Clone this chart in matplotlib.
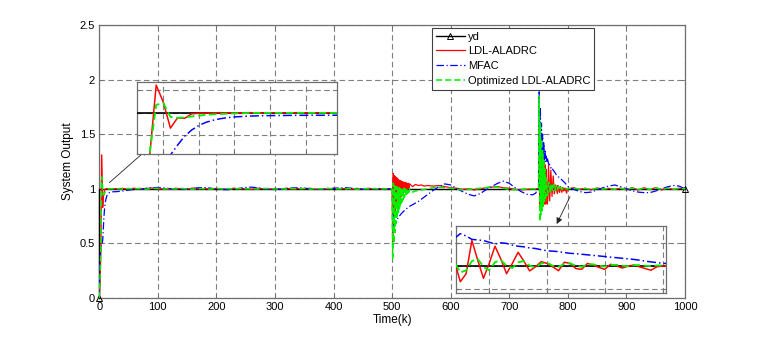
import numpy as np
import matplotlib
matplotlib.use('Agg')
import matplotlib.pyplot as plt

plt.rcParams['font.family'] = ['Liberation Sans', 'DejaVu Sans']

# ---------------- time samples (x positions of the readings) ----------------
t_seg1 = np.arange(0, 31)
t_seg2 = np.arange(40, 491, 10)
t_seg3 = np.arange(495, 531)
t_seg4 = np.array([535, 540, 545, 550, 555] + list(range(560, 741, 10)))
t_seg5 = np.arange(745, 801)
t_seg6 = np.arange(810, 1001, 10)
time = np.concatenate([t_seg1, t_seg2, t_seg3, t_seg4, t_seg5, t_seg6])

# ---------------- reference signal ----------------
yd_time = [0, 0, 1000]
yd_value = [0, 1, 1]

# ---------------- LDL-ALADRC (red) ----------------
red_values = [
    # 0..30
    0.0, 0.10, 0.25, 0.45, 1.31, 1.12, 0.83, 0.945, 0.94, 0.99, 0.996, 0.998, 1.0, 1.003, 1.0, 0.998,
    1.0, 1.003, 1.0, 0.999, 1.002, 1.0, 0.998, 1.001, 1.003, 1.0, 0.999, 1.0, 1.002, 1.0, 1.001,
    # 40..490
    1.004, 0.996, 1.006, 0.995, 1.003, 1.008, 0.997, 1.002, 0.994, 1.005, 1.001, 0.996, 1.007, 0.998,
    1.003, 0.995, 1.004, 1.0, 0.996, 1.006, 0.997, 1.003, 0.995, 1.005, 1.0, 0.996, 1.004, 0.998,
    1.006, 0.995, 1.003, 0.999, 1.005, 0.996, 1.002, 0.997, 1.006, 0.999, 1.003, 0.995, 1.004, 0.998,
    1.005, 0.997, 1.002, 1.0,
    # 495..530
    1.002, 0.998, 1.003, 0.999, 1.001, 1.0, 0.52, 1.14, 0.72, 1.12, 0.78, 1.11, 0.83, 1.10, 0.86, 1.09,
    0.89, 1.08, 0.91, 1.075, 0.93, 1.07, 0.95, 1.065, 0.96, 1.06, 0.97, 1.06, 0.98, 1.055, 0.99, 1.05,
    1.0, 1.05, 1.01, 1.045,
    # 535..740
    1.02, 1.04, 1.03, 1.035, 1.025, 1.03, 1.025, 1.03, 1.02, 1.01, 1.005, 0.995, 1.0, 0.99, 1.0, 1.01,
    1.015, 1.02, 1.01, 1.005, 0.995, 0.99, 0.995, 1.0,
    # 745..800
    1.0, 0.998, 1.002, 1.0, 0.999, 1.0, 1.5, 0.85, 1.42, 0.82, 1.36, 0.84, 1.3, 0.85, 1.26, 0.86, 1.22,
    0.86, 1.18, 1.035, 0.86, 0.93, 1.22, 1.05, 0.89, 1.02, 1.17, 1.06, 0.93, 1.02, 1.117, 1.04, 0.954,
    0.99, 1.035, 1.02, 0.99, 0.956, 1.03, 1.02, 0.975, 0.968, 1.02, 1.005, 0.985, 0.968, 1.012, 1.0,
    0.98, 0.995, 1.006, 0.99, 0.975, 0.96, 0.99, 0.997,
    # 810..1000
    1.01, 0.995, 1.005, 0.99, 1.008, 0.997, 1.004, 0.994, 1.006, 0.99, 1.012, 0.988, 1.01, 0.992,
    1.012, 0.99, 1.008, 0.994, 1.005, 1.0,
]

# ---------------- MFAC (blue) ----------------
blue_values = [
    # 0..30
    0.0, 0.3, 0.42, 0.47, 0.49, 0.5, 0.53, 0.64, 0.74, 0.81, 0.86, 0.895, 0.918, 0.935, 0.947, 0.955,
    0.96, 0.964, 0.967, 0.969, 0.97, 0.971, 0.972, 0.972, 0.973, 0.973, 0.972, 0.973, 0.972, 0.973, 0.974,
    # 40..490
    0.98, 0.988, 0.994, 0.998, 1.004, 1.01, 1.012, 1.008, 1.002, 0.996, 0.994, 0.998, 1.004, 1.01,
    1.012, 1.006, 0.998, 0.993, 0.992, 0.997, 1.005, 1.012, 1.015, 1.01, 1.002, 0.996, 0.993, 0.997,
    1.003, 1.008, 1.01, 1.006, 1.0, 0.995, 0.994, 0.998, 1.004, 1.009, 1.01, 1.006, 1.0, 0.996, 0.994,
    0.998, 1.003, 1.002,
    # 495..530
    1.0, 0.998, 1.0, 1.002, 1.0, 1.0, 0.86, 0.72, 0.66, 0.665, 0.68, 0.69, 0.7, 0.715, 0.72, 0.735,
    0.74, 0.75, 0.755, 0.762, 0.768, 0.774, 0.78, 0.786, 0.79, 0.796, 0.8, 0.806, 0.81, 0.815, 0.82,
    0.824, 0.828, 0.832, 0.836, 0.84,
    # 535..740
    0.855, 0.87, 0.885, 0.905, 0.925, 0.945, 0.985, 1.02, 1.045, 1.035, 1.005, 0.975, 0.95, 0.935,
    0.955, 0.99, 1.02, 1.05, 1.07, 1.05, 1.01, 0.975, 0.95, 0.945,
    # 745..800
    0.96, 0.97, 0.98, 0.99, 0.995, 1.0, 1.9, 1.45, 1.75, 1.4, 1.6, 1.35, 1.5, 1.3, 1.42, 1.27, 1.36,
    1.25, 1.3, 1.24, 1.28, 1.26, 1.23, 1.225, 1.22, 1.205, 1.19, 1.2, 1.195, 1.18, 1.17, 1.165, 1.155,
    1.15, 1.14, 1.13, 1.127, 1.123, 1.115, 1.108, 1.105, 1.1, 1.095, 1.09, 1.085, 1.08, 1.075, 1.07,
    1.065, 1.06, 1.055, 1.048, 1.04, 1.033, 1.027, 1.021,
    # 810..1000
    0.995, 0.975, 0.965, 0.97, 0.99, 1.01, 1.025, 1.035, 1.02, 1.0, 0.982, 0.97, 0.965, 0.965, 0.98,
    1.0, 1.018, 1.03, 1.025, 1.0,
]

# ---------------- Optimized LDL-ALADRC (green) ----------------
green_values = [
    # 0..30
    0.0, 0.12, 0.3, 0.5, 1.09, 1.11, 0.955, 0.945, 0.95, 0.96, 0.97, 0.978, 0.984, 0.988, 0.992, 0.995,
    0.997, 0.998, 1.0, 1.0, 1.001, 1.0, 0.999, 1.0, 1.0, 1.001, 1.0, 0.999, 1.0, 1.0, 1.0,
    # 40..490
    0.997, 1.003, 0.998, 1.004, 0.996, 1.002, 1.005, 0.997, 1.003, 0.998, 1.004, 0.999, 0.996, 1.003,
    1.0, 0.997, 1.005, 0.998, 1.002, 0.996, 1.004, 0.999, 1.003, 0.997, 1.002, 1.004, 0.998, 1.001,
    0.996, 1.003, 0.999, 1.004, 0.997, 1.002, 0.998, 1.005, 0.997, 1.001, 0.999, 1.004, 0.996, 1.002,
    0.999, 1.003, 0.998, 1.0,
    # 495..530
    1.0, 1.002, 0.998, 1.001, 0.999, 1.0, 0.35, 1.05, 0.5, 1.03, 0.6, 1.02, 0.68, 1.02, 0.74, 1.01,
    0.78, 1.01, 0.82, 1.01, 0.85, 1.01, 0.88, 1.005, 0.9, 1.005, 0.92, 1.0, 0.94, 1.0, 0.95, 1.0, 0.96,
    1.0, 0.97, 1.0,
    # 535..740
    0.97, 0.98, 0.985, 0.99, 0.995, 1.0, 1.01, 1.015, 1.01, 1.005, 0.995, 0.99, 0.995, 1.0, 1.005,
    1.01, 1.02, 1.015, 1.005, 0.995, 0.99, 0.995, 1.0, 1.0,
    # 745..800
    1.0, 1.002, 0.998, 1.0, 1.001, 1.0, 1.85, 0.7, 1.6, 0.76, 1.45, 0.8, 1.35, 0.84, 1.26, 0.87, 1.18,
    0.9, 1.1, 1.03, 0.94, 0.96, 1.04, 1.06, 0.99, 0.96, 1.03, 1.05, 1.0, 0.98, 1.03, 1.04, 1.0, 0.985,
    1.02, 1.025, 1.0, 0.99, 1.015, 1.02, 1.0, 0.99, 1.01, 1.012, 1.0, 0.993, 1.006, 1.008, 1.0, 0.995,
    1.004, 1.005, 1.0, 0.997, 1.002, 1.002,
    # 810..1000
    1.005, 0.997, 1.003, 0.995, 1.004, 0.998, 1.002, 0.996, 1.004, 0.995, 1.008, 0.992, 1.008, 0.994,
    1.01, 0.993, 1.006, 0.996, 1.004, 1.0,
]

assert len(red_values) == len(time), (len(red_values), len(time))
assert len(blue_values) == len(time), (len(blue_values), len(time))
assert len(green_values) == len(time), (len(green_values), len(time))

labels = ['yd', 'LDL-ALADRC', 'MFAC', 'Optimized LDL-ALADRC']
x_ticks = [0, 100, 200, 300, 400, 500, 600, 700, 800, 900, 1000]
y_ticks = [0, 0.5, 1, 1.5, 2, 2.5]
y_ticklabels = ['0', '0.5', '1', '1.5', '2', '2.5']

GRID_COLOR = '#7f7f7f'
FRAME_COLOR = '#6e6e6e'
GREEN = '#00ee00'


def draw_series(a, lw_scale=1.0, main=True):
    a.plot(yd_time, yd_value, color='black', lw=1.0 * lw_scale, marker='^' if main else None,
           markevery=[0, 2], ms=4, mfc='none', mec='black', mew=0.7, clip_on=not main, zorder=3)
    a.plot(time, red_values, color='red', lw=0.9 * lw_scale, zorder=4)
    a.plot(time, blue_values, color='blue', lw=0.9 * lw_scale, ls=(0, (6, 2, 1, 2)), zorder=5)
    a.plot(time, green_values, color=GREEN, lw=1.1 * lw_scale, ls=(0, (4, 2)), zorder=6)


def style_axes(a):
    for s in a.spines.values():
        s.set_color(FRAME_COLOR)
        s.set_linewidth(0.9)
    a.grid(True, color=GRID_COLOR, ls=(0, (5, 3)), lw=0.8)
    a.set_axisbelow(True)


fig = plt.figure(figsize=(7.58, 3.37), dpi=100)
ax = fig.add_axes([0.1309, 0.1157, 0.7728, 0.8101])
draw_series(ax)
ax.set_xlim(0, 1000)
ax.set_ylim(0, 2.5)
ax.set_xticks(x_ticks)
ax.set_yticks(y_ticks)
ax.set_yticklabels(y_ticklabels)
ax.tick_params(direction='in', top=True, right=True, length=3, width=0.6, color=FRAME_COLOR,
               labelsize=8, labelcolor='black', pad=3)
style_axes(ax)
ax.set_xlabel('Time(k)', fontsize=8.5, labelpad=1)
ax.set_ylabel('System Output', fontsize=8.5, labelpad=4)

leg = ax.legend(ax.get_lines()[:4], labels, loc='upper left', bbox_to_anchor=(0.568, 0.99),
                borderaxespad=0, fontsize=8, handlelength=2.6, labelspacing=0.42, borderpad=0.35,
                handletextpad=0.3, fancybox=False, framealpha=1, edgecolor='#404040')
leg.get_frame().set_linewidth(0.8)
leg.set_zorder(20)

# inset 1: start-up
ax1 = fig.add_axes([0.1803, 0.5421, 0.2642, 0.2136])
draw_series(ax1, lw_scale=1.2, main=False)
ax1.set_xlim(1.256, 29.4)
ax1.set_ylim(0.538, 1.341)
ax1.set_xticks([5, 10, 15, 20, 25])
ax1.set_yticks([0.75, 1.0, 1.25])
ax1.tick_params(labelbottom=False, labelleft=False, length=2, direction='in', color=FRAME_COLOR)
style_axes(ax1)

# inset 2: after disturbance at k=750
ax2 = fig.add_axes([0.6012, 0.1315, 0.2774, 0.1979])
draw_series(ax2, lw_scale=1.2, main=False)
ax2.set_xlim(764.2, 800.6)
ax2.set_ylim(0.764, 1.347)
ax2.set_xticks([770, 780, 790, 800])
ax2.set_yticks([0.8, 1.0, 1.2])
ax2.tick_params(labelbottom=False, labelleft=False, length=2, direction='in', color=FRAME_COLOR)
style_axes(ax2)

arrow_kw = dict(arrowstyle='-|>', color='#222222', lw=0.6, mutation_scale=9, shrinkA=0, shrinkB=0)
ax.annotate('', xy=(0.1943, 0.5570), xycoords='figure fraction',
            xytext=(0.1442, 0.4579), textcoords='figure fraction', arrowprops=arrow_kw, zorder=30)
ax.annotate('', xy=(0.7344, 0.3353), xycoords='figure fraction',
            xytext=(0.752, 0.4163), textcoords='figure fraction', arrowprops=arrow_kw, zorder=30)

fig.savefig('out.png', dpi=100, facecolor='white')
